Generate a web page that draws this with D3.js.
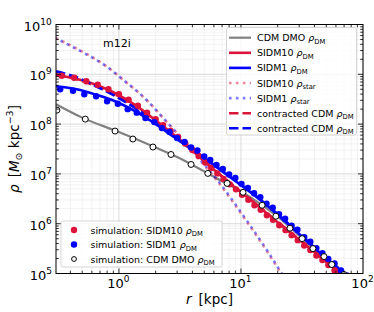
<!DOCTYPE html>
<html><head><meta charset="utf-8">
<script src="https://cdn.jsdelivr.net/npm/d3@7"></script>
<style>body{margin:0;background:#fff}svg{display:block;font-family:"DejaVu Sans",sans-serif}</style>
</head><body><svg id="c" width="374" height="312"></svg>
<script>
// ---------------- data (log10 of density, radius in kpc) ----------------
const cdmDmoLineR   = [0.305, 0.5, 1, 2, 3, 5, 7, 10, 15, 20, 30, 40, 50, 60, 72];
const cdmDmoLineLog = [8.40, 8.13, 7.84, 7.53, 7.34, 7.05, 6.85, 6.65, 6.37, 6.14, 5.76, 5.49, 5.30, 5.13, 4.96];

const sidm10LineR   = [0.305, 0.445, 0.65, 0.95, 1.38, 2.01, 2.9, 4.0, 5.2, 7.7, 14.5, 26, 40, 65, 72];
const sidm10LineLog = [8.98, 8.91, 8.79, 8.61, 8.37, 8.07, 7.76, 7.47, 7.22, 6.86, 6.31, 5.80, 5.43, 5.00, 4.91];

const sidm1LineR   = [0.305, 0.45, 0.65, 0.95, 1.38, 2.0, 2.9, 4.0, 7.5, 14, 25, 45, 70, 78];
const sidm1LineLog = [8.76, 8.70, 8.59, 8.45, 8.25, 8.00, 7.72, 7.48, 7.00, 6.50, 5.97, 5.40, 5.00, 4.90];

const starR          = [0.305, 0.417, 0.57, 0.78, 1.07, 1.66, 2.43, 3.37, 4.07, 6.3, 11.1, 16, 21.6, 24];
const sidm10StarLog  = [9.73, 9.56, 9.38, 9.17, 8.90, 8.50, 8.06, 7.67, 7.43, 6.88, 6.05, 5.48, 4.98, 4.80];
const sidm1StarLog   = [9.72, 9.55, 9.37, 9.17, 8.90, 8.50, 8.06, 7.68, 7.44, 6.90, 6.07, 5.50, 5.00, 4.82];

const contr10R   = [0.305, 0.45, 0.65, 0.95, 1.4, 2.0, 2.9, 4.0, 5.2, 7.7, 14.5, 26, 40, 65, 72];
const contr10Log = [9.00, 8.90, 8.76, 8.57, 8.33, 8.05, 7.75, 7.47, 7.22, 6.87, 6.32, 5.81, 5.44, 5.01, 4.92];

const contr1R   = [0.305, 0.45, 0.65, 0.95, 1.4, 2.0, 2.9, 4.0, 7.5, 14, 25, 45, 70, 78];
const contr1Log = [9.06, 8.94, 8.76, 8.55, 8.30, 8.02, 7.73, 7.49, 7.01, 6.51, 5.98, 5.41, 5.01, 4.91];

const sidm10SimR   = [0.34, 0.43, 0.54, 0.67, 0.82, 1.0, 1.2, 1.43, 1.7, 2.0, 2.3, 2.65, 3.05, 3.5, 4.0, 4.5, 5.1, 5.7, 6.4, 7.2, 8.1, 9.1, 10.2, 11.5, 12.9, 14.5, 16.3, 18.3, 20.6, 23.2, 26, 29.2, 33, 37, 41.5, 46.5, 52, 58.5, 65];
const sidm10SimLog = [8.97, 8.93, 8.86, 8.79, 8.70, 8.60, 8.49, 8.37, 8.23, 8.10, 7.98, 7.86, 7.74, 7.61, 7.48, 7.36, 7.23, 7.12, 7.01, 6.90, 6.79, 6.69, 6.58, 6.48, 6.37, 6.28, 6.17, 6.08, 5.97, 5.87, 5.77, 5.67, 5.56, 5.47, 5.36, 5.27, 5.17, 5.06, 4.97];

const sidm1SimR   = [0.33, 0.42, 0.52, 0.65, 0.80, 0.98, 1.18, 1.40, 1.65, 1.95, 2.25, 2.6, 3.0, 3.45, 3.9, 4.4, 5.0, 5.6, 6.3, 7.1, 8.0, 9.0, 10.1, 11.4, 12.8, 14.4, 16.2, 18.2, 20.5, 23, 26, 29, 33, 37, 41.5, 46.5, 52, 58.5, 66, 74];
const sidm1SimLog = [8.70, 8.67, 8.60, 8.56, 8.46, 8.41, 8.30, 8.23, 8.12, 8.04, 7.92, 7.84, 7.72, 7.64, 7.53, 7.47, 7.35, 7.28, 7.18, 7.10, 6.99, 6.92, 6.80, 6.72, 6.61, 6.53, 6.40, 6.32, 6.19, 6.10, 5.96, 5.88, 5.73, 5.64, 5.51, 5.41, 5.29, 5.20, 5.06, 4.96];

const cdmSimR   = [0.31, 0.53, 0.93, 1.30, 1.9, 2.67, 3.9, 5.35, 7.7, 10.4, 14.9, 19.3, 25.2, 31.7, 38.9, 47.9, 55.5, 69.8];
const cdmSimLog = [8.28, 8.10, 7.86, 7.70, 7.54, 7.39, 7.19, 7.01, 6.81, 6.63, 6.37, 6.15, 5.91, 5.70, 5.50, 5.34, 5.18, 4.98];

const xTickExp = [0, 1, 2];
const yTickExp = [5, 6, 7, 8, 9, 10];

const RED = "#dc143c", BLUE = "#0000ff", GRAY = "#808080";

// ---------------- layout ----------------
const svg = d3.select("#c");
const L = 56, R = 363, T = 24.5, B = 273.5;
const x = d3.scaleLog().domain([0.305, 100]).range([L, R]);
const y = d3.scaleLog().domain([1e5, 1e10]).range([B, T]);

const pts = (rs, ls) => rs.map((r, i) => [r, Math.pow(10, ls[i])]);

svg.append("defs").append("clipPath").attr("id", "clip")
  .append("rect").attr("x", L).attr("y", T).attr("width", R - L).attr("height", B - T);

// minor/major tick values
const xMajor = xTickExp.map(e => Math.pow(10, e));
const yMajor = yTickExp.map(e => Math.pow(10, e));
const xMinor = [];
[-1, 0, 1].forEach(e => { for (let j = 2; j <= 9; j++) { const v = j * Math.pow(10, e); if (v >= 0.305 && v <= 100) xMinor.push(v); } });
const yMinor = [];
[5, 6, 7, 8, 9].forEach(e => { for (let j = 2; j <= 9; j++) yMinor.push(j * Math.pow(10, e)); });

// grid
const g = svg.append("g");
g.selectAll(".gxm").data(xMinor).enter().append("line")
  .attr("x1", d => x(d)).attr("x2", d => x(d)).attr("y1", T).attr("y2", B)
  .attr("stroke", "#ececec").attr("stroke-width", 0.7);
g.selectAll(".gym").data(yMinor).enter().append("line")
  .attr("y1", d => y(d)).attr("y2", d => y(d)).attr("x1", L).attr("x2", R)
  .attr("stroke", "#ececec").attr("stroke-width", 0.7);
g.selectAll(".gxM").data(xMajor).enter().append("line")
  .attr("x1", d => x(d)).attr("x2", d => x(d)).attr("y1", T).attr("y2", B)
  .attr("stroke", "#d2d2d2").attr("stroke-width", 0.8);
g.selectAll(".gyM").data(yMajor).enter().append("line")
  .attr("y1", d => y(d)).attr("y2", d => y(d)).attr("x1", L).attr("x2", R)
  .attr("stroke", "#d2d2d2").attr("stroke-width", 0.8);

// lines
const line = d3.line().x(d => x(d[0])).y(d => y(d[1])).curve(d3.curveMonotoneX);
const plot = svg.append("g").attr("clip-path", "url(#clip)");
function drawLine(data, color, w, dash, op, off) {
  plot.append("path").attr("d", line(data)).attr("fill", "none")
    .attr("stroke", color).attr("stroke-width", w)
    .attr("stroke-dasharray", dash || null).attr("stroke-dashoffset", off || 0)
    .attr("stroke-opacity", op || 1);
}
drawLine(pts(cdmDmoLineR, cdmDmoLineLog), GRAY, 2.2);
drawLine(pts(sidm10LineR, sidm10LineLog), RED, 2.6);
drawLine(pts(sidm1LineR, sidm1LineLog), BLUE, 2.6);
drawLine(pts(starR, sidm10StarLog), RED, 2.6, "2.6,4.3", 0.5, 0);
drawLine(pts(starR, sidm1StarLog), BLUE, 2.6, "2.6,4.3", 0.5, 1.8);
drawLine(pts(contr10R, contr10Log), RED, 2.6, "9.5,4", 1);
drawLine(pts(contr1R, contr1Log), BLUE, 2.6, "9.5,4", 1);

// scatter
plot.selectAll(".r").data(pts(sidm10SimR, sidm10SimLog)).enter().append("circle")
  .attr("cx", d => x(d[0])).attr("cy", d => y(d[1])).attr("r", 3.2).attr("fill", RED);
plot.selectAll(".b").data(pts(sidm1SimR, sidm1SimLog)).enter().append("circle")
  .attr("cx", d => x(d[0])).attr("cy", d => y(d[1])).attr("r", 3.2).attr("fill", BLUE);
plot.selectAll(".k").data(pts(cdmSimR, cdmSimLog)).enter().append("circle")
  .attr("cx", d => x(d[0])).attr("cy", d => y(d[1])).attr("r", 3.0)
  .attr("fill", "#fff").attr("stroke", "#000").attr("stroke-width", 1);

// frame
svg.append("rect").attr("x", L).attr("y", T).attr("width", R - L).attr("height", B - T)
  .attr("fill", "none").attr("stroke", "#000").attr("stroke-width", 1);

// ticks inward on all sides
const tk = svg.append("g").attr("stroke", "#000").attr("stroke-width", 0.8);
function xt(vals, len) {
  vals.forEach(v => {
    tk.append("line").attr("x1", x(v)).attr("x2", x(v)).attr("y1", B).attr("y2", B - len);
    tk.append("line").attr("x1", x(v)).attr("x2", x(v)).attr("y1", T).attr("y2", T + len);
  });
}
function yt(vals, len) {
  vals.forEach(v => {
    tk.append("line").attr("y1", y(v)).attr("y2", y(v)).attr("x1", L).attr("x2", L + len);
    tk.append("line").attr("y1", y(v)).attr("y2", y(v)).attr("x1", R).attr("x2", R - len);
  });
}
xt(xMajor.filter(v => v < 100), 5); xt(xMinor, 2.8);
yt(yMajor.slice(1, -1), 5); yt(yMinor, 2.8);

// tick labels
function powLabel(px, py, exp, anchor) {
  const t = svg.append("text").attr("x", px).attr("y", py).attr("font-size", 13).attr("fill", "#000");
  t.append("tspan").text("10");
  t.append("tspan").attr("dy", -6).attr("font-size", 9).text(exp);
  const w = t.node().getBBox().width;
  if (anchor === "middle") t.attr("x", px - w / 2);
  else if (anchor === "end") t.attr("x", px - w);
  return t;
}
xTickExp.forEach(e => powLabel(x(Math.pow(10, e)) - 0.5, 287.5, e, "middle"));
yTickExp.forEach(e => powLabel(52, y(Math.pow(10, e)) + 6, e, "end"));

// axis labels
const xl = svg.append("text").attr("x", (L + R) / 2).attr("y", 304).attr("text-anchor", "middle")
  .attr("font-size", 13.5);
xl.append("tspan").attr("font-style", "italic").text("r");
xl.append("tspan").text("\u2009 [kpc]");

const yl = svg.append("text").attr("transform", `translate(19,${(T + B) / 2}) rotate(-90)`)
  .attr("text-anchor", "middle").attr("font-size", 13.5);
yl.append("tspan").attr("font-style", "italic").text("\u03c1");
yl.append("tspan").text("\u2009 [");
yl.append("tspan").attr("font-style", "italic").text("M");
yl.append("tspan").attr("dy", 3).attr("font-size", 9.5).text("\u2299");
yl.append("tspan").attr("dy", -3).text(" kpc");
yl.append("tspan").attr("dy", -6).attr("font-size", 9.5).text("\u22123");
yl.append("tspan").attr("dy", 6).text("]");

// halo name
svg.append("text").attr("x", 103).attr("y", 46.5).attr("font-size", 11).text("m12i");

// legend helpers
function rhoLabel(t, pre, sub) {
  t.append("tspan").text(pre);
  t.append("tspan").attr("font-style", "italic").text("\u03c1");
  t.append("tspan").attr("dy", 2.5).attr("font-size", 6.8).text(sub);
}

// upper legend
const lg1 = svg.append("g");
lg1.append("rect").attr("x", 226.5).attr("y", 27.5).attr("width", 130).attr("height", 107.5)
  .attr("rx", 2).attr("fill", "#fff").attr("fill-opacity", 0.8).attr("stroke", "#cccccc").attr("stroke-width", 0.8);
const leg1 = [
  {pre: "CDM DMO ", sub: "DM", c: GRAY, w: 2.2, dash: null, op: 1},
  {pre: "SIDM10 ", sub: "DM", c: RED, w: 2.6, dash: null, op: 1},
  {pre: "SIDM1 ", sub: "DM", c: BLUE, w: 2.6, dash: null, op: 1},
  {pre: "SIDM10 ", sub: "star", c: RED, w: 2.6, dash: "2.6,4.3", op: 0.5},
  {pre: "SIDM1 ", sub: "star", c: BLUE, w: 2.6, dash: "2.6,4.3", op: 0.5},
  {pre: "contracted CDM ", sub: "DM", c: RED, w: 2.6, dash: "9.5,4", op: 1},
  {pre: "contracted CDM ", sub: "DM", c: BLUE, w: 2.6, dash: "9.5,4", op: 1}
];
leg1.forEach((d, i) => {
  const yy = 37.7 + i * 15.1;
  lg1.append("line").attr("x1", 229).attr("x2", 251).attr("y1", yy).attr("y2", yy)
    .attr("stroke", d.c).attr("stroke-width", d.w).attr("stroke-dasharray", d.dash)
    .attr("stroke-opacity", d.op);
  const t = lg1.append("text").attr("x", 257).attr("y", yy + 3.5).attr("font-size", 9.5);
  rhoLabel(t, d.pre, d.sub);
});

// lower legend
const lg2 = svg.append("g");
lg2.append("rect").attr("x", 61).attr("y", 221).attr("width", 161).attr("height", 46)
  .attr("rx", 2).attr("fill", "#fff").attr("fill-opacity", 0.8).attr("stroke", "#cccccc").attr("stroke-width", 0.8);
const leg2 = [
  {pre: "simulation: SIDM10 ", c: RED, open: false},
  {pre: "simulation: SIDM1 ", c: BLUE, open: false},
  {pre: "simulation: CDM DMO ", c: "#000", open: true}
];
leg2.forEach((d, i) => {
  const yy = 230 + i * 14.5;
  const cc = lg2.append("circle").attr("cx", 74).attr("cy", yy);
  if (d.open) cc.attr("r", 2.4).attr("fill", "#fff").attr("stroke", "#000").attr("stroke-width", 1);
  else cc.attr("r", 3.2).attr("fill", d.c);
  const t = lg2.append("text").attr("x", 90.5).attr("y", yy + 3.5).attr("font-size", 9.5);
  rhoLabel(t, d.pre, "DM");
});
</script></body></html>
